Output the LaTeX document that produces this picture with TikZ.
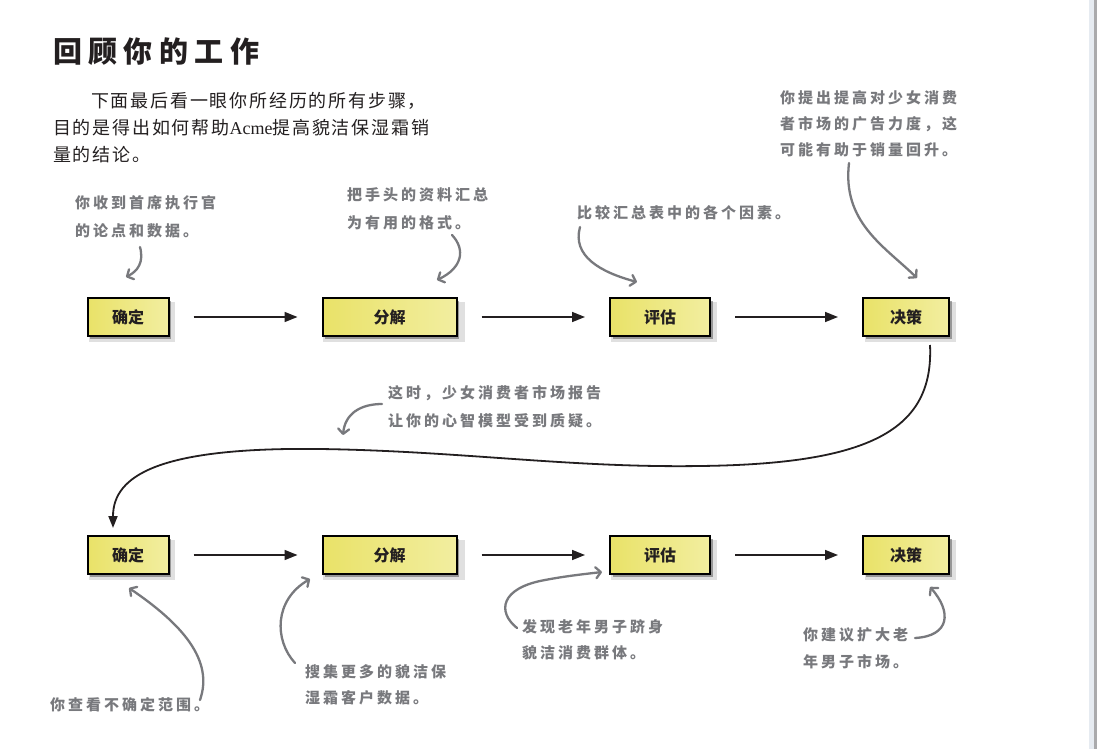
\documentclass[tikz,border=0pt]{standalone}
\usepackage{fontspec}
\setmainfont{Liberation Serif}
\newfontfamily\cjk{Noto Sans CJK SC}
\newfontfamily\cjkann[LetterSpace=20]{Noto Sans CJK SC}
\newfontfamily\cjkintro[LetterSpace=10]{Noto Sans CJK SC}
\newfontfamily\cjktitle[LetterSpace=22]{Noto Sans CJK SC}
\usetikzlibrary{arrows.meta,shadows}
\definecolor{boxL}{RGB}{233,226,104}
\definecolor{boxR}{RGB}{242,238,160}
\definecolor{anngray}{RGB}{120,121,125}
\definecolor{inktext}{RGB}{35,31,32}
\definecolor{stripA}{RGB}{230,235,241}
\definecolor{stripB}{RGB}{170,170,172}
\tikzset{
  stepbox/.style={draw=black, line width=2pt, left color=boxL, right color=boxR,
    inner sep=0pt, minimum height=38pt,
    font=\cjk\bfseries\fontsize{16}{16}\selectfont, text=inktext,
    general shadow={shadow xshift=4pt, shadow yshift=-4.5pt, shadow scale=1.06, fill=black, opacity=0.12},
    drop shadow={shadow xshift=2.5pt, shadow yshift=-2.5pt, fill=black!75, opacity=0.45}},
  flow/.style={line width=1.6pt, draw=inktext, -{Triangle[length=13pt,width=10pt]},
    shorten <=24pt, shorten >=24pt},
  bigflow/.style={line width=1.8pt, draw=inktext, -{Triangle[length=12pt,width=9pt]}},
  note/.style={anchor=north west, align=left, inner sep=0pt, text=anngray,
    font=\cjkann\bfseries\fontsize{15}{28}\selectfont},
  notearrow/.style={line width=2.3pt, draw=anngray, line cap=round,
    -{Straight Barb[round,length=5pt,width=11pt]}},
  intro/.style={anchor=west, inner sep=0pt, text=inktext,
    font=\cjkintro\fontsize{18}{18}\selectfont},
}
\begin{document}
\begin{tikzpicture}[x=1pt,y=-1pt]
\useasboundingbox (0,0) rectangle (1097,749);
\fill[white] (0,0) rectangle (1097,749);
\fill[stripA] (1089,0) rectangle (1094,749);
\fill[stripB] (1094,0) rectangle (1097,749);

% title and intro
\node[anchor=west, inner sep=0pt, text=inktext, font=\cjktitle\bfseries\fontsize{29}{29}\selectfont] (title) at (53,52) {回顾你的工作};
\node[intro] (in1) at (91,101) {下面最后看一眼你所经历的所有步骤，};
\node[intro] (in2) at (53,128) {目的是得出如何帮助{\rmfamily Acme}提高貌洁保湿霜销};
\node[intro] (in3) at (53,155) {量的结论。};

% boxes, first row
\node[stepbox, minimum width=81pt] (qd1) at (128,317) {确定};
\node[stepbox, minimum width=134pt] (fj1) at (389.5,317) {分解};
\node[stepbox, minimum width=100pt] (pg1) at (660,317) {评估};
\node[stepbox, minimum width=86pt] (jc1) at (906,317) {决策};
% boxes, second row
\node[stepbox, minimum width=81pt] (qd2) at (128,555) {确定};
\node[stepbox, minimum width=134pt] (fj2) at (389.5,555) {分解};
\node[stepbox, minimum width=100pt] (pg2) at (660,555) {评估};
\node[stepbox, minimum width=86pt] (jc2) at (906,555) {决策};

\draw[flow] (qd1) -- (fj1);
\draw[flow] (fj1) -- (pg1);
\draw[flow] (pg1) -- (jc1);
\draw[flow] (qd2) -- (fj2);
\draw[flow] (fj2) -- (pg2);
\draw[flow] (pg2) -- (jc2);

% big return curve
\coordinate (bigS) at ([xshift=24pt,yshift=-8pt]jc1.south);
\coordinate (bigE) at ([xshift=-15pt,yshift=7pt]qd2.north);
\draw[bigflow] (bigS) .. controls (934,430) and (870,464) .. (700,466)
  .. controls (570,468) and (460,451) .. (320,449)
  .. controls (160,447) and (113,475) .. (bigE);

% annotations
\node[note] (n1) at (75,195) {你收到首席执行官\\的论点和数据。};
\node[note] (n2) at (347,187.5) {把手头的资料汇总\\为有用的格式。};
\node[note] (n3) at (577,205.5) {比较汇总表中的各个因素。};
\node[note, font=\cjkann\bfseries\fontsize{15}{26}\selectfont] (n4) at (780,90.5) {你提出提高对少女消费\\者市场的广告力度，这\\可能有助于销量回升。};
\node[note] (n5) at (388,385.5) {这时，少女消费者市场报告\\让你的心智模型受到质疑。};
\node[note] (n6) at (50,697.5) {你查看不确定范围。};
\node[note, font=\cjkann\bfseries\fontsize{15}{26}\selectfont] (n7) at (305,664.5) {搜集更多的貌洁保\\湿霜客户数据。};
\node[note, font=\cjkann\bfseries\fontsize{15}{26}\selectfont] (n8) at (522,619.5) {发现老年男子跻身\\貌洁消费群体。};
\node[note, font=\cjkann\bfseries\fontsize{15}{27}\selectfont] (n9) at (803,627.5) {你建议扩大老\\年男子市场。};

% annotation arrows
\coordinate (a1s) at (140,247); \coordinate (a1e) at (126,277);
\draw[notearrow] (a1s) .. controls (144,262) and (138,271) .. (a1e);
\coordinate (a2s) at (452,235); \coordinate (a2e) at (437,280);
\draw[notearrow] (a2s) .. controls (466,250) and (462,268) .. (a2e);
\coordinate (a3s) at (580,227); \coordinate (a3e) at (637,282);
\draw[notearrow] (a3s) .. controls (572,256) and (600,272) .. (a3e);
\coordinate (a4s) at (849,163); \coordinate (a4e) at (917,278);
\draw[notearrow] (a4s) .. controls (842,222) and (884,246) .. (a4e);
\coordinate (a5s) at (382,404); \coordinate (a5e) at (343,435);
\draw[notearrow] (a5s) .. controls (360,404) and (345,414) .. (a5e);
\coordinate (a6s) at (200,700); \coordinate (a6e) at (129,588);
\draw[notearrow] (a6s) .. controls (214,660) and (182,624) .. (a6e);
\coordinate (a7s) at (295,663); \coordinate (a7e) at (310,579);
\draw[notearrow] (a7s) .. controls (274,640) and (274,600) .. (a7e);
\coordinate (a8s) at (517,628); \coordinate (a8m) at (545,580); \coordinate (a8e) at (602,572);
\draw[notearrow] (a8s) .. controls (497,612) and (500,588) .. (a8m) .. controls (566,576) and (585,574) .. (a8e);
\coordinate (a9s) at (915,638); \coordinate (a9e) at (930,587);
\draw[notearrow] (a9s) .. controls (950,636) and (952,612) .. (a9e);
\end{tikzpicture}
\end{document}
